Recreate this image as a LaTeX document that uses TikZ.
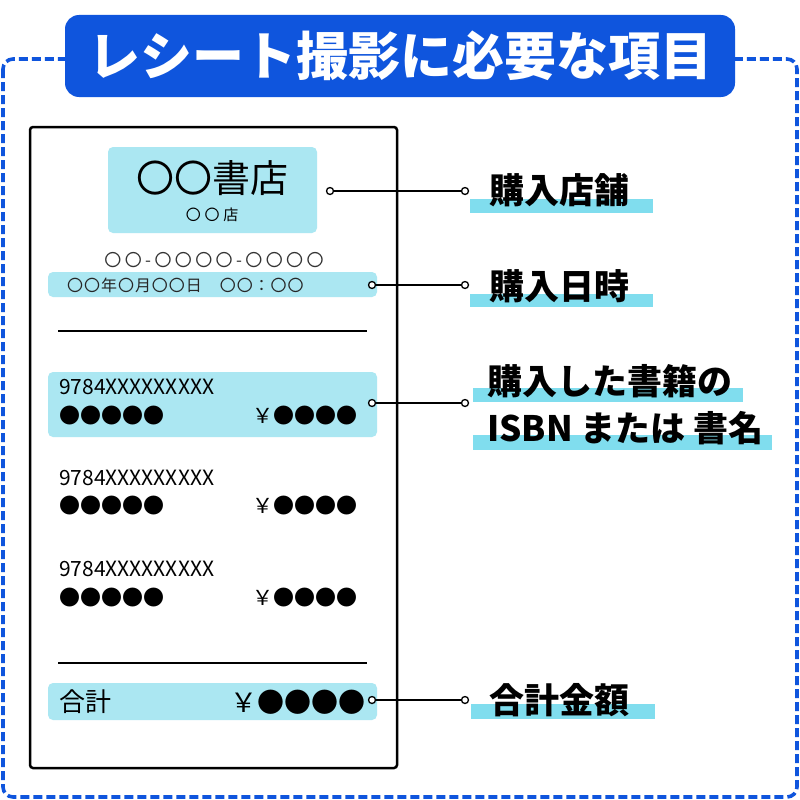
\documentclass[tikz,border=0pt]{standalone}
\usepackage{fontspec}
\newfontfamily\jp{Noto Sans CJK JP}
\definecolor{titleblue}{HTML}{0F55DD}
\definecolor{boxcyan}{HTML}{ABE7F2}
\definecolor{barcyan}{HTML}{80DDEE}

\begin{document}
\begin{tikzpicture}[x=1pt,y=-1pt,
  box/.style={fill=boxcyan,rounded corners=5pt},
  pin/.style={circle,draw,line width=1.3pt,fill=white,inner sep=0pt,minimum size=7pt},
  tag/.style={anchor=west,inner sep=0pt,font=\jp\bfseries\fontsize{35}{44}\selectfont},
  txt/.style={anchor=west,inner sep=0pt,font=\jp\fontsize{21}{22}\selectfont},
  dots/.style={anchor=west,inner sep=0pt,font=\jp\fontsize{21}{22}\selectfont},
  yen/.style={anchor=east,inner sep=0pt,font=\jp\fontsize{21}{22}\selectfont}]
\useasboundingbox[fill=white] (0,0) rectangle (800,800);
% frame and title
\draw[titleblue,line width=3.6pt,dash pattern=on 9pt off 4pt,rounded corners=10pt] (3,59) rectangle (797,797);
\node[fill=titleblue,rounded corners=14pt,minimum width=670pt,minimum height=82pt,text=white,font=\jp\bfseries\fontsize{52}{56}\selectfont] (title) at (400,56){レシート撮影に必要な項目};
% receipt
\draw[line width=2.5pt,rounded corners=3pt] (30,127) rectangle (397,768);
\fill[box] (108,147) rectangle (317,233);
\node[inner sep=0pt,font=\jp\fontsize{38}{40}\selectfont] (shop) at (212,178){〇〇書店};
\node[inner sep=0pt,font=\jp\addfontfeature{LetterSpace=25}\fontsize{15}{16}\selectfont] (branch) at (212,215){〇〇店};
\node[inner sep=0pt,text=black!80,font=\jp\addfontfeature{LetterSpace=20}\fontsize{17}{18}\selectfont] (tel) at (214,260){〇〇-〇〇〇〇-〇〇〇〇};
\fill[box] (48,272) rectangle (377,297);
\node[anchor=west,inner sep=0pt,text=black!85,font=\jp\addfontfeature{LetterSpace=6}\fontsize{16}{17}\selectfont] (date) at (67,285){〇〇年〇月〇〇日　〇〇：〇〇};
\draw[line width=1.5pt] (58,331) -- (367,331);
\fill[box] (48,372) rectangle (377,437);
\node[txt] (isbn1) at (59,387){9784XXXXXXXXX};
\node[dots] (name1) at (59,416){●●●●●};\node[yen] (price1) at (358,416){￥●●●●};
\node[txt] (isbn2) at (59,478){9784XXXXXXXXX};
\node[dots] (name2) at (59,506){●●●●●};\node[yen] (price2) at (358,506){￥●●●●};
\node[txt] (isbn3) at (59,569){9784XXXXXXXXX};
\node[dots] (name3) at (59,598){●●●●●};\node[yen] (price3) at (358,598){￥●●●●};
\draw[line width=1.5pt] (58,663) -- (367,663);
\fill[box] (48,683) rectangle (377,720);
\node[anchor=west,inner sep=0pt,font=\jp\fontsize{26}{28}\selectfont] (sum) at (59,702){合計};
\node[anchor=east,inner sep=0pt,font=\jp\fontsize{27}{28}\selectfont] (total) at (366,702){￥●●●●};
% labels
\fill[barcyan] (470,199) rectangle (653,213);
\fill[barcyan] (470,294) rectangle (653,307);
\fill[barcyan] (473,388) rectangle (743,402);
\fill[barcyan] (473,435) rectangle (772,450);
\fill[barcyan] (471,704) rectangle (655,719);
\node[tag] (store) at (489,190){購入店舗};
\node[tag] (when) at (489,286){購入日時};
\node[tag] (book) at (487,381){購入した書籍の};
\node[tag] (book2) at (487,428){ISBN または 書名};
\node[tag] (amount) at (489,700){合計金額};
% connectors
\node[pin] (p1) at (330,191){};\node[pin] (q1) at (465,191){};
\node[pin] (p2) at (372,285){};\node[pin] (q2) at (465,285){};
\node[pin] (p3) at (372,403){};\node[pin] (q3) at (465,403){};
\node[pin] (p4) at (372,700){};\node[pin] (q4) at (465,700){};
\foreach \i in {1,...,4}{\draw[line width=1.3pt] (p\i) -- (q\i);}
\end{tikzpicture}
\end{document}
